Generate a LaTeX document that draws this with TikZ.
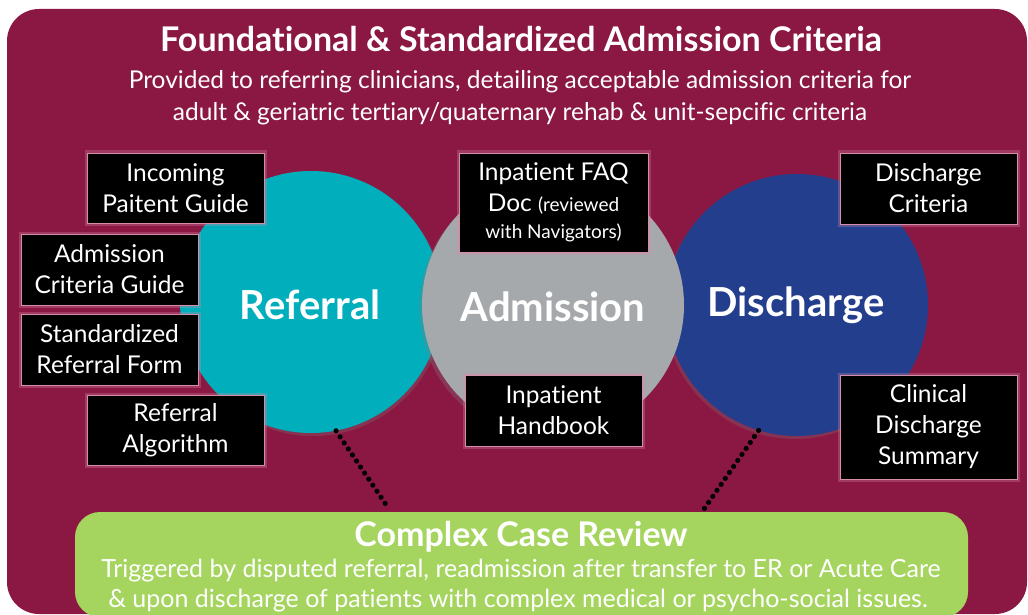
\documentclass[tikz,border=0pt]{standalone}
\usepackage{fontspec}
\setmainfont{Lato}[Ligatures=NoCommon]
\usetikzlibrary{shadows,decorations.markings}
\definecolor{maroon}{RGB}{139,24,66}
\definecolor{tealc}{RGB}{0,174,188}
\definecolor{grayc}{RGB}{166,169,172}
\definecolor{bluec}{RGB}{36,62,142}
\definecolor{greenc}{RGB}{165,213,95}
\definecolor{glowc}{RGB}{215,140,170}
\begin{document}
\begin{tikzpicture}[x=1pt,y=-1pt,
  bbox/.style={fill=black, text=white, draw=glowc, line width=0.8pt,
    preaction={draw=glowc, line width=5pt, opacity=0.3},
    align=center, inner sep=0pt, font=\fontsize{24.5}{31}\selectfont},
  circ/.style={circle, minimum size=262pt, inner sep=0pt},
  clabel/.style={text=white, font=\bfseries\fontsize{40}{44}\selectfont},
  dotline/.style={postaction={decorate, decoration={markings,
      mark=between positions 0 and 1 step 7.3pt with {\fill[black] (0,0) circle (2.6pt);}}}}]
\useasboundingbox (0,0) rectangle (1028,615);
\begin{scope}
\clip (0,0) rectangle (1028,615);
\fill[maroon, rounded corners=32pt] (7,9) rectangle (1027,614);

\node[anchor=base, text=white, font=\bfseries\fontsize{34}{38}\selectfont] (title) at (521,52) {Foundational \& Standardized Admission Criteria};
\node[anchor=base, text=white, font=\fontsize{24.5}{28}\selectfont] (sub1) at (520,89) {Provided to referring clinicians, detailing acceptable admission criteria for};
\node[anchor=base, text=white, font=\fontsize{24.5}{28}\selectfont] (sub2) at (520,121) {adult \& geriatric tertiary/quaternary rehab \& unit-sepcific criteria};

\node[circ, fill=tealc, drop shadow={shadow xshift=2pt, shadow yshift=-3pt, opacity=0.25}] (ref) at (311,302) {};
\node[circ, fill=bluec, drop shadow={shadow xshift=-2pt, shadow yshift=-3pt, opacity=0.25}] (dis) at (797,305) {};
\node[circ, fill=grayc, drop shadow={shadow xshift=-3pt, shadow yshift=-3pt, opacity=0.3}] (adm) at (553,305) {};
\node[clabel] (reft) at (310,305) {Referral};
\node[clabel] (admt) at (553,307) {Admission};
\node[clabel] (dist) at (796,305) {Discharge};

\node[bbox, minimum width=177pt, minimum height=70pt] (ipg) at (175.5,188) {Incoming\\Paitent Guide};
\node[bbox, minimum width=177pt, minimum height=71pt] (acg) at (109.5,269.5) {Admission\\Criteria Guide};
\node[bbox, minimum width=177pt, minimum height=71pt] (srf) at (109.5,349.5) {Standardized\\Referral Form};
\node[bbox, minimum width=177pt, minimum height=70pt] (ra) at (175.5,430) {Referral\\Algorithm};
\node[bbox, minimum width=189pt, minimum height=99pt] (faq) at (553.5,202.5) {Inpatient FAQ\\Doc {\fontsize{19}{24}\selectfont(reviewed}\\[-4pt]{\fontsize{19}{24}\selectfont with Navigators)}};
\node[bbox, minimum width=177pt, minimum height=71pt] (hb) at (553.5,410.5) {Inpatient\\Handbook};
\node[bbox, minimum width=177pt, minimum height=71pt] (dc) at (928.5,188.5) {Discharge\\Criteria};
\node[bbox, minimum width=177pt, minimum height=104pt] (cds) at (928.5,427) {Clinical\\Discharge\\Summary};

\coordinate (gl) at (389,509);
\coordinate (gr) at (704,509);
\path[dotline] (ref.-79.6) -- (gl);
\path[dotline] (dis.-107.5) -- (gr);

\fill[greenc, rounded corners=25pt] (75,512) rectangle (968,617);
\node[anchor=base, text=white, font=\bfseries\fontsize{34}{38}\selectfont] (cct) at (521,546) {Complex Case Review};
\node[anchor=base, text=white, font=\fontsize{25}{30}\selectfont] (cc1) at (521,577) {Triggered by disputed referral, readmission after transfer to ER or Acute Care};
\node[anchor=base, text=white, font=\fontsize{25}{30}\selectfont] (cc2) at (518,607) {\& upon discharge of patients with complex medical or psycho-social issues.};
\end{scope}
\end{tikzpicture}
\end{document}
